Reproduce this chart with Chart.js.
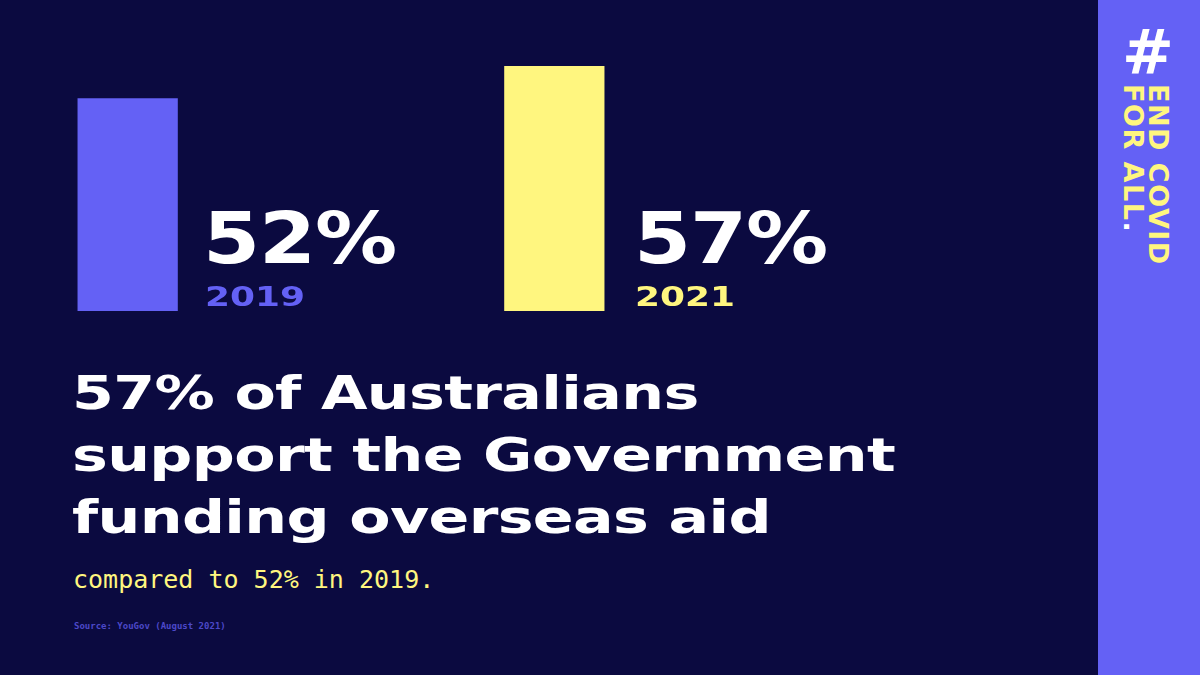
<!DOCTYPE html>
<html><head><meta charset="utf-8">
<script src="https://cdn.jsdelivr.net/npm/chart.js@4/dist/chart.umd.min.js"></script>
<style>
html,body{margin:0;padding:0;width:1200px;height:675px;overflow:hidden;background:#0B0A40;font-family:"DejaVu Sans",sans-serif}
.abs{position:absolute;white-space:nowrap;transform-origin:0 0}
.big{font-weight:bold;font-size:72px;color:#fff;letter-spacing:-1px;transform:scaleX(1.14)}
.yr{font-weight:bold;font-size:27px;transform:scaleX(1.33)}
.head{font-weight:bold;font-size:47px;color:#fff;line-height:62px;left:72px;top:362px;letter-spacing:-0.5px;transform:scaleX(1.28)}
#band{position:absolute;left:1098px;top:0;width:102px;height:675px;background:#6461F5}
</style></head><body>
<div style="position:absolute;left:21px;top:66px;width:640px;height:245px"><canvas id="c"></canvas></div>
<div class="abs big" style="left:203px;top:196px">52%</div>
<div class="abs yr" style="left:205px;top:281px;color:#6461F5">2019</div>
<div class="abs big" style="left:634px;top:196px">57%</div>
<div class="abs yr" style="left:635px;top:281px;color:#FFF67F">2021</div>
<div class="abs head">57% of Australians<br>support the Government<br>funding overseas aid</div>
<div class="abs" style="left:73px;top:565px;font-family:'DejaVu Sans Mono',monospace;font-size:25px;color:#FFF67F">compared to 52% in 2019.</div>
<div class="abs" style="left:74px;top:621px;font-family:'DejaVu Sans Mono',monospace;font-size:9px;font-weight:bold;color:#4B48C8">Source: YouGov (August 2021)</div>
<div id="band"></div>
<div class="abs" style="left:1122px;top:22px;font-size:62px;font-weight:bold;color:#fff;line-height:62px">#</div>
<div class="abs" style="left:1171px;top:84px;transform:rotate(90deg);font-weight:bold;font-size:27px;line-height:25px;color:#FFF67F;letter-spacing:1.5px">END COVID<br>FOR ALL<span style="color:#fff">.</span></div>
<script>
const categories=['2019','','2021'];
const values=[52,null,57];
const colors=['#6461F5','#000','#FFF67F'];
new Chart(document.getElementById('c'),{type:'bar',
data:{labels:categories,datasets:[{data:values,backgroundColor:colors,barPercentage:0.94,categoryPercentage:0.5}]},
options:{responsive:true,maintainAspectRatio:false,animation:false,layout:{padding:0},
plugins:{legend:{display:false},tooltip:{enabled:false}},
scales:{x:{display:false},y:{display:false,min:19,max:57}}}});
</script></body></html>
